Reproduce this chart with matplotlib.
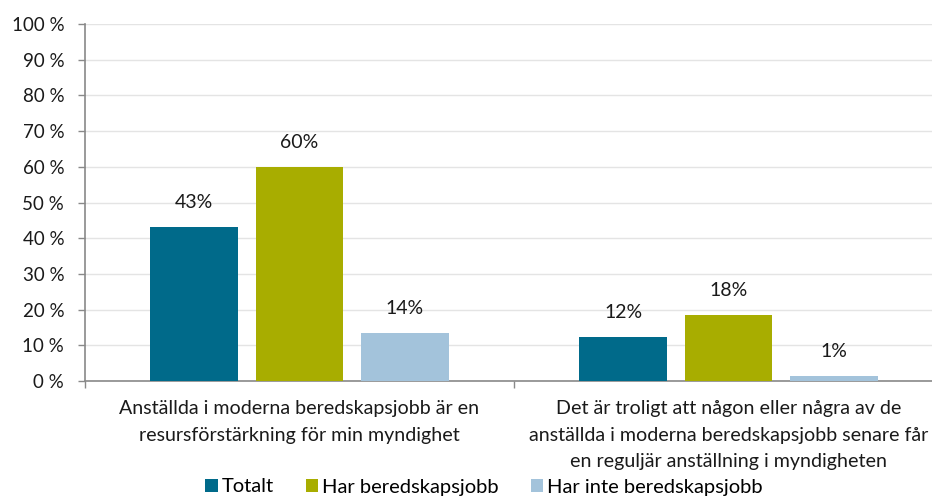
import matplotlib
matplotlib.use("Agg")
import matplotlib.pyplot as plt
import numpy as np

plt.rcParams['font.family'] = ['Lato', 'DejaVu Sans']

categories = [
    "Anställda i moderna beredskapsjobb är en\nresursförstärkning för min myndighet",
    "Det är troligt att någon eller några av de\nanställda i moderna beredskapsjobb senare får\nen reguljär anställning i myndigheten",
]
series = ["Totalt", "Har beredskapsjobb", "Har inte beredskapsjobb"]
values = [
    [43.2, 12.3],   # Totalt
    [60.0, 18.5],   # Har beredskapsjobb
    [13.5, 1.4],    # Har inte beredskapsjobb
]
labels = [["43%", "12%"], ["60%", "18%"], ["14%", "1%"]]
colors = ["#006A8A", "#A8AD00", "#A3C3DB"]
yticks = [0, 10, 20, 30, 40, 50, 60, 70, 80, 90, 100]

fig = plt.figure(figsize=(9.32, 4.96), dpi=100)
ax = fig.add_axes([85 / 932, 115 / 496, 858 / 932, 357 / 496])

x = np.arange(len(categories))
width = 0.205
offsets = [-0.245, 0, 0.245]

for vals, labs, col, off, name in zip(values, labels, colors, offsets, series):
    bars = ax.bar(x + off, vals, width, color=col, label=name, zorder=3)
    for b, lab in zip(bars, labs):
        ax.annotate(lab, (b.get_x() + b.get_width() / 2, b.get_height()),
                    xytext=(0, 17.5), textcoords="offset points",
                    ha="center", va="center", fontsize=14, color="#1a1a1a")

ax.set_xlim(-0.5, 1.5)
ax.set_ylim(0, 100)
ax.set_yticks(yticks)
ax.set_yticklabels([f"{t} %" for t in yticks], fontsize=13.5, color="#1a1a1a")
ax.set_xticks(x)
ax.set_xticklabels(categories, fontsize=14.1, color="#1a1a1a")
for t in ax.get_xticklabels():
    t.set_linespacing(1.68)
ax.set_xticks([-0.5, 0.5, 1.5], minor=True)
ax.tick_params(axis="x", which="major", length=0, pad=14)
ax.tick_params(axis="x", which="minor", length=5, color="#898989", width=1)
ax.tick_params(axis="y", length=5, color="#898989", width=1, pad=10)

ax.grid(axis="y", color="#E4E4E4", linewidth=1, zorder=0)
for s in ["top", "right"]:
    ax.spines[s].set_visible(False)
for s in ["left", "bottom"]:
    ax.spines[s].set_color("#898989")
    ax.spines[s].set_linewidth(1.2)

fig.legend(loc="center", bbox_to_anchor=(484 / 932, 1 - 487 / 496), ncol=3,
           frameon=False, fontsize=14.5, handlelength=0.6, handleheight=0.6,
           handletextpad=0.2, columnspacing=1.6, borderpad=0)

fig.savefig("out.png", dpi=100)
